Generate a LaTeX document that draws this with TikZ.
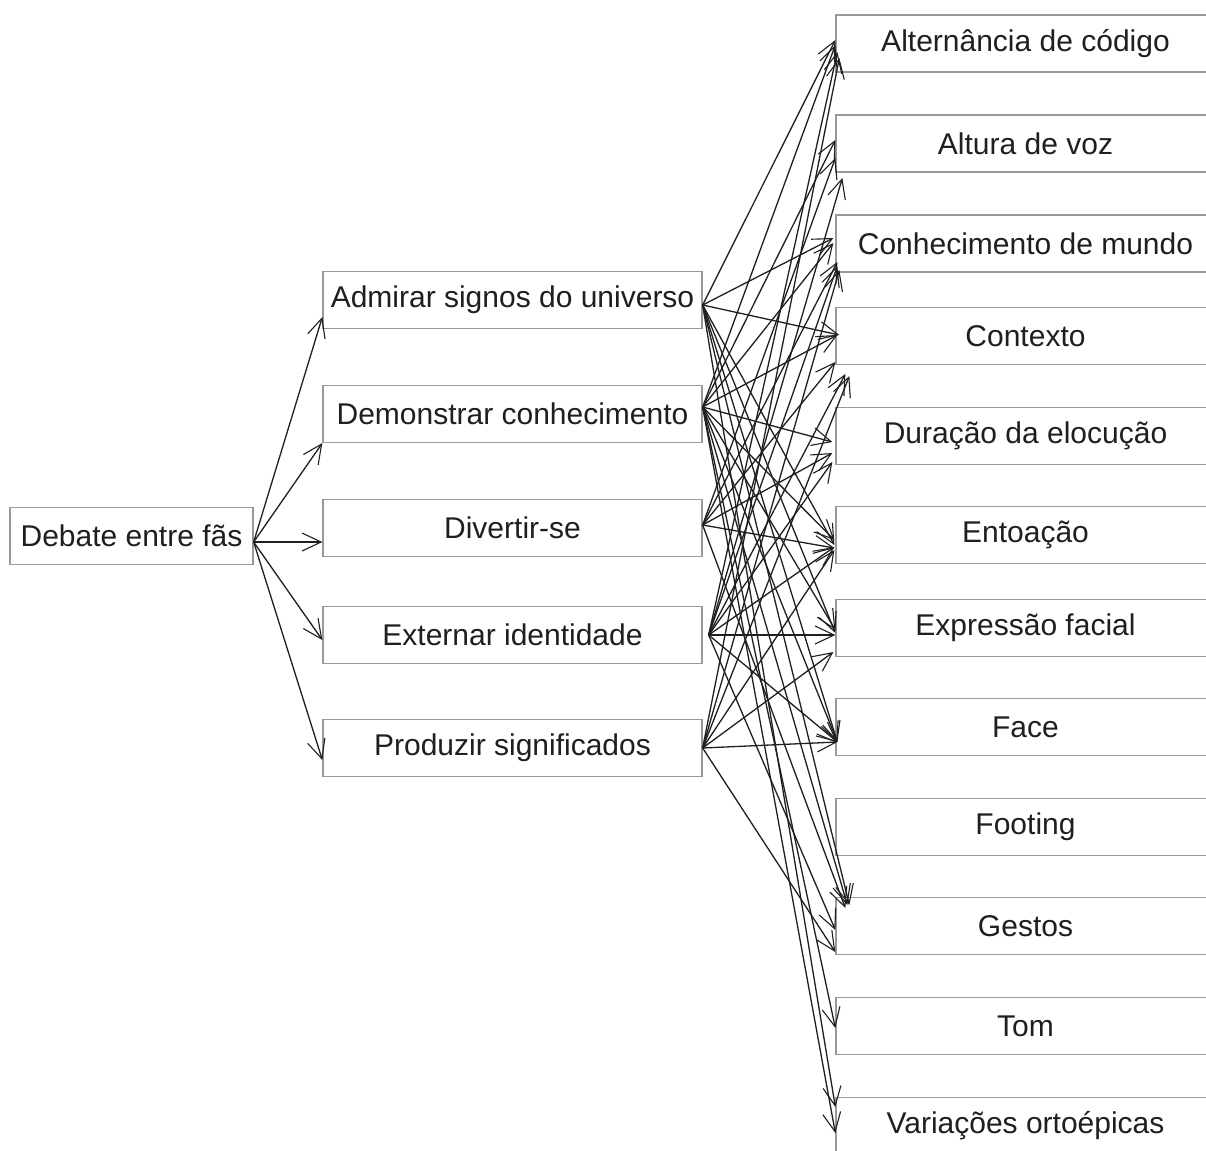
\documentclass[tikz,border=0pt]{standalone}
\usepackage{fontspec}
\setmainfont{Liberation Sans}
\usetikzlibrary{arrows.meta,calc}
\begin{document}
\begin{tikzpicture}[x=1pt,y=-1pt,
  box/.style={draw=black!40,line width=1.3pt,minimum height=57pt,inner sep=0pt,
    font=\fontsize{30}{33}\selectfont,text=black!88},
  wbox/.style={box,minimum width=379pt},
  link/.style={-{Straight Barb[length=19pt,width=18pt,line width=1.1pt]},line width=1.3pt,black!88}]
\useasboundingbox (0,0) rectangle (1206,1150);
\clip (0,0) rectangle (1206,1150);
\fill[white] (0,0) rectangle (1206,1150);

% nodes
\node[box,minimum width=243pt] (deb) at (131.5,536) {Debate entre fãs};
\node[wbox] (adm) at (512.5,300) {Admirar signos do universo};
\node[wbox] (dem) at (512.5,414) {Demonstrar conhecimento};
\node[wbox] (div) at (512.5,528) {Divertir-se};
\node[wbox] (ext) at (512.5,635) {Externar identidade};
\node[wbox] (pro) at (512.5,748) {Produzir significados};

\node[wbox] (alt) at (1025.5,43.5) {Alternância de código};
\node[wbox] (alv) at (1025.5,143.5) {Altura de voz};
\node[wbox] (con) at (1025.5,243.5) {Conhecimento de mundo};
\node[wbox] (ctx) at (1025.5,336) {Contexto};
\node[wbox] (dur) at (1025.5,436) {Duração da elocução};
\node[wbox] (ent) at (1025.5,535) {Entoação};
\node[wbox] (exp) at (1025.5,628) {Expressão facial};
\node[wbox] (fac) at (1025.5,727) {Face};
\node[wbox] (foo) at (1025.5,827) {Footing};
\node[wbox] (ges) at (1025.5,926) {Gestos};
\node[wbox] (tom) at (1025.5,1026) {Tom};
\node[wbox] (var) at (1025.5,1126) {Variações ortoépicas};

% source points
\coordinate (sdeb) at ($(deb.east)+(0,6)$);
\coordinate (sadm) at ($(adm.east)+(0,5)$);
\coordinate (sdem) at ($(dem.east)+(0,-7)$);
\coordinate (sdiv) at ($(div.east)+(0,-3)$);
\coordinate (sext) at ($(ext.east)+(6,0)$);
\coordinate (spro) at (pro.east);

% debate -> purposes
\draw[link] (sdeb) -- ($(adm.west)+(0,17)$);
\draw[link] (sdeb) -- ($(dem.west)+(0,29)$);
\draw[link] (sdeb) -- ($(div.west)+(0,14)$);
\draw[link] (sdeb) -- ($(ext.west)+(0,5)$);
\draw[link] (sdeb) -- ($(pro.west)+(0,12)$);

% Alternancia
\draw[link] (sadm) -- ($(alt.west)+(0,-3.5)$);
\draw[link] (sdem) -- ($(alt.west)+(0,1.5)$);
\draw[link] (sext) -- ($(alt.west)+(2,8.5)$);
\draw[link] (spro) -- ($(alt.west)+(4,14.5)$);
% Altura
\draw[link] (sdem) -- ($(alv.west)+(0,-3.5)$);
\draw[link] (sdiv) -- ($(alv.west)+(0,14.5)$);
\draw[link] (sext) -- ($(alv.west)+(7,34.5)$);
% Conhecimento
\draw[link] (sadm) -- ($(con.west)+(-2,-5.5)$);
\draw[link] (sdem) -- ($(con.west)+(-2,-0.5)$);
\draw[link] (sdiv) -- ($(con.west)+(2,18.5)$);
\draw[link] (sext) -- ($(con.west)+(2,22.5)$);
\draw[link] (spro) -- ($(con.west)+(4,26.5)$);
% Contexto
\draw[link] (sadm) -- ($(ctx.west)+(4,-1)$);
\draw[link] (sdem) -- ($(ctx.west)+(2,-1)$);
\draw[link] (sdiv) -- ($(ctx.west)+(0,26)$);
\draw[link] (sext) -- ($(ctx.west)+(10,38)$);
\draw[link] (spro) -- ($(ctx.west)+(14,40)$);
% Duracao
\draw[link] (sdem) -- ($(dur.west)+(-3,6)$);
\draw[link] (sdiv) -- ($(dur.west)+(-3,17)$);
\draw[link] (sext) -- ($(dur.west)+(-3,26)$);
% Entoacao
\draw[link] (sadm) -- ($(ent.west)+(-1,10)$);
\draw[link] (sdem) -- ($(ent.west)+(-1,5)$);
\draw[link] (sdiv) -- ($(ent.west)+(-1,13)$);
\draw[link] (sext) -- ($(ent.west)+(-1,12)$);
\draw[link] (spro) -- ($(ent.west)+(-1,15)$);
% Expressao facial
\draw[link] (sadm) -- ($(exp.west)+(0,5)$);
\draw[link] (sdem) -- ($(exp.west)+(0,2)$);
\draw[link] (sext) -- ($(exp.west)+(0,7)$);
\draw[link] (spro) -- ($(exp.west)+(-2,24)$);
% Face
\draw[link] (sadm) -- ($(fac.west)+(2,15)$);
\draw[link] (sdem) -- ($(fac.west)+(2,15)$);
\draw[link] (sext) -- ($(fac.west)+(2,15)$);
\draw[link] (spro) -- ($(fac.west)+(2,15)$);
% Gestos
\draw[link] (sadm) -- ($(ges.west)+(14,-21)$);
\draw[link] (sdem) -- ($(ges.west)+(12,-21)$);
\draw[link] (sdiv) -- ($(ges.west)+(10,-18)$);
\draw[link] (sext) -- ($(ges.west)+(0,4)$);
\draw[link] (spro) -- ($(ges.west)+(0,26)$);
% Tom
\draw[link] (sdem) -- ($(tom.west)+(0,2)$);
% Variacoes
\draw[link] (sadm) -- ($(var.west)+(0,-19)$);
\draw[link] (sdem) -- ($(var.west)+(0,7)$);
\end{tikzpicture}
\end{document}
